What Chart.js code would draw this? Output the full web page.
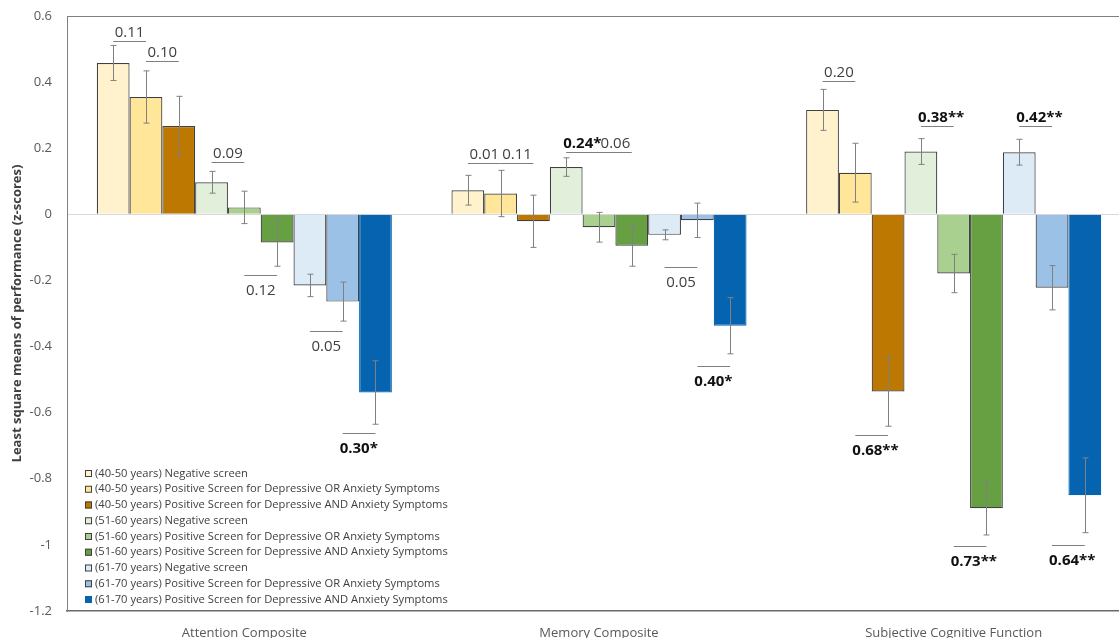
<!DOCTYPE html>
<html><head><meta charset="utf-8">
<script src="https://cdn.jsdelivr.net/npm/chart.js@4.4.1/dist/chart.umd.min.js"></script>
<style>
html,body{margin:0;padding:0;overflow:hidden;background:#fff;width:1119px;height:638px}
#wrap{position:absolute;left:0;top:0;width:1136px;height:638px}
</style>
</head><body><div id="wrap"><canvas id="c" width="1136" height="638"></canvas></div>
<script>
// ---- data ----
const categories = ['Attention Composite', 'Memory Composite', 'Subjective Cognitive Function'];
const seriesLabels = [
  '(40-50 years) Negative screen',
  '(40-50 years) Positive Screen for Depressive OR Anxiety Symptoms',
  '(40-50 years) Positive Screen for Depressive AND Anxiety Symptoms',
  '(51-60 years) Negative screen',
  '(51-60 years) Positive Screen for Depressive OR Anxiety Symptoms',
  '(51-60 years) Positive Screen for Depressive AND Anxiety Symptoms',
  '(61-70 years) Negative screen',
  '(61-70 years) Positive Screen for Depressive OR Anxiety Symptoms',
  '(61-70 years) Positive Screen for Depressive AND Anxiety Symptoms'
];
const age4050Neg = [0.458, 0.073, 0.316];
const age4050Or  = [0.355, 0.063, 0.126];
const age4050And = [0.267, -0.021, -0.536];
const age5160Neg = [0.097, 0.143, 0.190];
const age5160Or  = [0.021, -0.039, -0.179];
const age5160And = [-0.085, -0.095, -0.889];
const age6170Neg = [-0.215, -0.062, 0.188];
const age6170Or  = [-0.264, -0.018, -0.222];
const age6170And = [-0.539, -0.337, -0.850];

const se4050Neg = [0.053, 0.045, 0.062];
const se4050Or  = [0.079, 0.070, 0.089];
const se4050And = [0.090, 0.079, 0.105];
const se5160Neg = [0.033, 0.028, 0.039];
const se5160Or  = [0.049, 0.045, 0.058];
const se5160And = [0.072, 0.062, 0.081];
const se6170Neg = [0.034, 0.015, 0.039];
const se6170Or  = [0.059, 0.052, 0.067];
const se6170And = [0.096, 0.085, 0.113];

const yTicks = ['0.6', '0.4', '0.2', '0', '-0.2', '-0.4', '-0.6', '-0.8', '-1', '-1.2'];

// effect-size labels: category, compared bars (from, to), text, value of its rule line
const effectLabels = [
  {cat: 0, from: 0, to: 1, text: '0.11',   value: 0.524},
  {cat: 0, from: 1, to: 2, text: '0.10',   value: 0.464},
  {cat: 0, from: 3, to: 4, text: '0.09',   value: 0.158},
  {cat: 0, from: 4, to: 5, text: '0.12',   value: -0.185},
  {cat: 0, from: 6, to: 7, text: '0.05',   value: -0.354},
  {cat: 0, from: 7, to: 8, text: '0.30*',  value: -0.663},
  {cat: 1, from: 0, to: 1, text: '0.01',   value: 0.155},
  {cat: 1, from: 1, to: 2, text: '0.11',   value: 0.156},
  {cat: 1, from: 3, to: 4, text: '0.24*',  value: 0.190},
  {cat: 1, from: 4, to: 5, text: '0.06',   value: 0.190},
  {cat: 1, from: 6, to: 7, text: '0.05',   value: -0.160},
  {cat: 1, from: 7, to: 8, text: '0.40*',  value: -0.460},
  {cat: 2, from: 0, to: 1, text: '0.20',   value: 0.402},
  {cat: 2, from: 3, to: 4, text: '0.38**', value: 0.266},
  {cat: 2, from: 6, to: 7, text: '0.42**', value: 0.267},
  {cat: 2, from: 1, to: 2, text: '0.68**', value: -0.668},
  {cat: 2, from: 4, to: 5, text: '0.73**', value: -1.003},
  {cat: 2, from: 7, to: 8, text: '0.64**', value: -1.000}
];

// ---- styles ----
const seriesValues = [age4050Neg, age4050Or, age4050And, age5160Neg, age5160Or, age5160And, age6170Neg, age6170Or, age6170And];
const seriesErrors = [se4050Neg, se4050Or, se4050And, se5160Neg, se5160Or, se5160And, se6170Neg, se6170Or, se6170And];
const fills = ['#FFF2CC', '#FFE699', '#BC7800', '#E2EFDA', '#A9D08E', '#67A043', '#DDEBF7', '#9BC2E6', '#0563AF'];
const edges = ['#404040', '#404040', '#404040', '#404040', '#404040', '#404040', '#404040', '#404040', '#0563AF'];
const FONT = "'Open Sans', 'Noto Sans', sans-serif";

const datasets = seriesValues.map((vals, i) => ({
  label: seriesLabels[i],
  data: vals,
  backgroundColor: fills[i],
  borderColor: edges[i],
  borderWidth: 1.2,
  barPercentage: 1,
  categoryPercentage: 0.832
}));

const errorBarPlugin = {
  id: 'errorBars',
  afterDatasetsDraw(chart) {
    const ctx = chart.ctx, y = chart.scales.y;
    ctx.save();
    ctx.strokeStyle = '#808080';
    ctx.lineWidth = 1;
    chart.data.datasets.forEach((ds, i) => {
      const meta = chart.getDatasetMeta(i);
      meta.data.forEach((bar, j) => {
        const v = seriesValues[i][j], e = seriesErrors[i][j];
        const x = Math.round(bar.x) + 0.5;
        const y1 = y.getPixelForValue(v + e), y2 = y.getPixelForValue(v - e);
        ctx.beginPath();
        ctx.moveTo(x, y1); ctx.lineTo(x, y2);
        ctx.moveTo(x - 3, y1); ctx.lineTo(x + 3, y1);
        ctx.moveTo(x - 3, y2); ctx.lineTo(x + 3, y2);
        ctx.stroke();
      });
    });
    // effect-size labels
    effectLabels.forEach(a => {
      const x0 = chart.getDatasetMeta(a.from).data[a.cat].x;
      const x1 = chart.getDatasetMeta(a.to).data[a.cat].x;
      const ly = Math.round(y.getPixelForValue(a.value)) + 0.5;
      const starred = a.text.indexOf('*') >= 0;
      const below = a.value < 0;
      ctx.strokeStyle = '#7f7f7f';
      ctx.lineWidth = 1.2;
      ctx.beginPath(); ctx.moveTo(x0, ly); ctx.lineTo(x1, ly); ctx.stroke();
      ctx.font = (starred ? 'bold ' : '') + '15px ' + FONT;
      ctx.fillStyle = starred ? '#111111' : '#404040';
      ctx.textBaseline = 'middle';
      const ty = below ? ly + 15 : ly - 9;
      if (starred) { ctx.textAlign = 'left'; ctx.fillText(a.text, x0 - 3, ty); }
      else { ctx.textAlign = 'center'; ctx.fillText(a.text, (x0 + x1) / 2, ty); }
    });
    ctx.restore();
  },
  afterDraw(chart) {
    const ctx = chart.ctx, ca = chart.chartArea;
    ctx.save();
    ctx.strokeStyle = '#808080';
    ctx.lineWidth = 1;
    ctx.beginPath();
    ctx.moveTo(ca.left, ca.top + 0.5); ctx.lineTo(ca.right, ca.top + 0.5);
    ctx.moveTo(ca.right - 0.5, ca.top); ctx.lineTo(ca.right - 0.5, ca.bottom);
    ctx.stroke();
    // legend
    const lx = 85, ly0 = 473.5, step = 15.75;
    ctx.font = '11.2px ' + FONT;
    ctx.textBaseline = 'middle';
    ctx.textAlign = 'left';
    seriesLabels.forEach((t, i) => {
      const yy = ly0 + i * step;
      ctx.fillStyle = fills[i];
      ctx.fillRect(lx, yy - 3.5, 7, 7);
      ctx.strokeStyle = edges[i];
      ctx.lineWidth = 1;
      ctx.strokeRect(lx + 0.5, yy - 3.5 + 0.5, 6, 6);
      ctx.fillStyle = '#404040';
      ctx.fillText(t, lx + 10, yy);
    });
    ctx.restore();
  }
};

new Chart(document.getElementById('c'), {
  type: 'bar',
  data: {labels: categories, datasets},
  options: {
    responsive: false,
    animation: false,
    devicePixelRatio: 1,
    layout: {padding: {top: 16, right: 5, bottom: 0, left: 0}},
    plugins: {legend: {display: false}, tooltip: {enabled: false}},
    scales: {
      x: {
        grid: {display: false},
        border: {display: true, color: '#6a6a6a', width: 1.5},
        ticks: {color: '#595959', font: {family: FONT, size: 13}, padding: 6},
        afterFit(s) { s.height = 27; }
      },
      y: {
        min: -1.2, max: 0.6,
        ticks: {
          stepSize: 0.2,
          color: '#595959',
          font: {family: FONT, size: 13},
          padding: 15,
          callback(v) {
            const s = String(Number(v.toFixed(1)));
            return yTicks.includes(s) ? s : '';
          }
        },
        grid: {
          drawTicks: false,
          color: c => Math.abs(c.tick.value) < 1e-9 ? '#d9d9d9' : 'rgba(0,0,0,0)',
          lineWidth: 1
        },
        border: {display: true, color: '#808080', width: 1},
        title: {
          display: true,
          text: 'Least square means of performance (z-scores)',
          color: '#404040',
          font: {family: FONT, size: 13, weight: 'bold'},
          padding: {top: 9, bottom: 0}
        },
        afterFit(s) { s.width = 67; s.paddingTop = 0; s.paddingBottom = 0; }
      }
    }
  },
  plugins: [errorBarPlugin]
});
</script></body></html>
